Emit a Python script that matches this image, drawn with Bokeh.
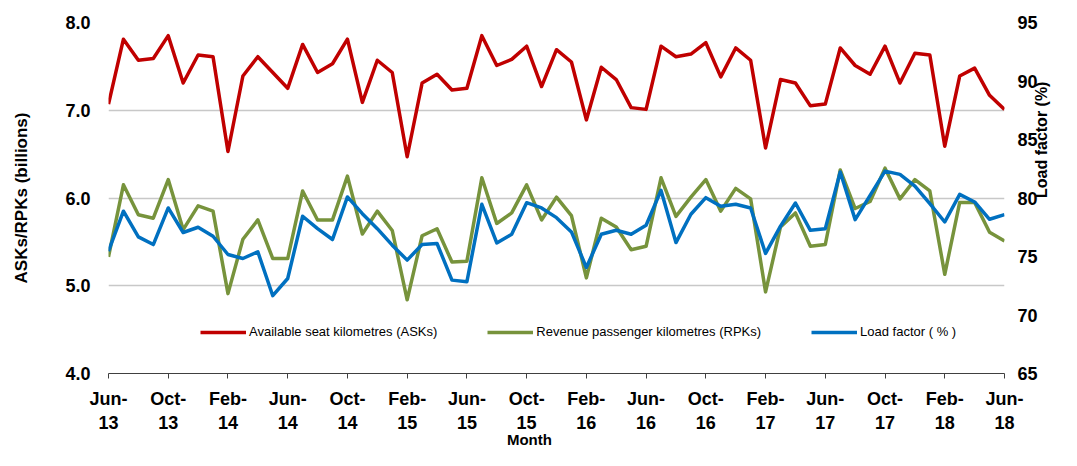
import math
from bokeh.plotting import figure
from bokeh.models import (Range1d, LinearAxis, FixedTicker, Legend, LegendItem,
                          PrintfTickFormatter)
from bokeh.embed import file_html
from bokeh.resources import INLINE

# ---- data (Jun-13 .. Jun-18, monthly) ----
month_index = list(range(61))
tick_labels = ["Jun-13", "Oct-13", "Feb-14", "Jun-14", "Oct-14", "Feb-15",
               "Jun-15", "Oct-15", "Feb-16", "Jun-16", "Oct-16", "Feb-17",
               "Jun-17", "Oct-17", "Feb-18", "Jun-18"]

asks = [7.07, 7.81, 7.57, 7.59, 7.85, 7.31, 7.63, 7.61, 6.53, 7.39, 7.61, 7.43,
        7.25, 7.75, 7.43, 7.53, 7.81, 7.09, 7.57, 7.43, 6.47,
        7.31, 7.41, 7.23, 7.25, 7.85, 7.51, 7.58, 7.73, 7.27, 7.69, 7.55, 6.89,
        7.49, 7.35, 7.03, 7.01, 7.73, 7.61, 7.64, 7.77,
        7.38, 7.71, 7.57, 6.57, 7.35, 7.31, 7.05, 7.07, 7.71, 7.51, 7.41, 7.73,
        7.31, 7.65, 7.63, 6.59, 7.39, 7.48, 7.17, 7.01]

rpks = [5.33, 6.15, 5.81, 5.77, 6.21, 5.64, 5.91, 5.85, 4.91, 5.53, 5.75, 5.31,
        5.31, 6.08, 5.75, 5.75, 6.25, 5.59, 5.85, 5.63, 4.84,
        5.57, 5.65, 5.27, 5.28, 6.23, 5.71, 5.83, 6.15, 5.75, 6.01, 5.80, 5.09,
        5.77, 5.67, 5.41, 5.45, 6.23, 5.79, 6.01, 6.21,
        5.85, 6.11, 5.99, 4.93, 5.67, 5.83, 5.45, 5.47, 6.32, 5.88, 5.96, 6.34,
        5.99, 6.21, 6.08, 5.13, 5.95, 5.95, 5.61, 5.51]

load_factor = [75.45, 78.87, 76.68, 76.02, 79.15, 77.05, 77.50, 76.73, 75.17,
               74.83, 75.40, 71.65, 73.12, 78.44, 77.38, 76.45, 80.09, 78.66,
               77.38, 75.97, 74.69,
               76.02, 76.11, 72.98, 72.84, 79.46, 76.16, 76.90, 79.60, 79.15,
               78.32, 77.10, 74.06, 76.90, 77.24, 76.90, 77.67, 80.65, 76.19,
               78.61, 80.03,
               79.29, 79.46, 79.15, 75.26, 77.59, 79.57, 77.24, 77.38, 82.22,
               78.15, 80.23, 82.30, 82.02, 81.02, 79.52, 77.95, 80.31, 79.66,
               78.18, 78.58]

FONT = "Liberation Sans"

p = figure(width=1061, height=450, output_backend="svg", toolbar_location=None,
           x_range=Range1d(0, 60), y_range=Range1d(4, 8),
           min_border_left=108, min_border_right=56,
           min_border_top=22, min_border_bottom=76)
p.outline_line_color = None
p.background_fill_color = "white"
p.border_fill_color = "white"

# grid
p.xgrid.visible = False
p.ygrid.ticker = FixedTicker(ticks=[5, 6, 7, 8])
p.ygrid.grid_line_color = "#c8c8c8"
p.ygrid.grid_line_width = 1.5

# left axis
ya = p.yaxis[0]
ya.ticker = FixedTicker(ticks=[4, 5, 6, 7, 8])
ya.formatter = PrintfTickFormatter(format="%.1f")
ya.axis_line_color = None
ya.major_tick_line_color = None
ya.major_tick_out = 0
ya.major_tick_in = 0
ya.minor_tick_line_color = None
ya.minor_tick_out = 0
ya.major_label_standoff = 18
ya.major_label_text_font = FONT
ya.major_label_text_font_style = "bold"
ya.major_label_text_font_size = "18px"
ya.major_label_text_color = "black"
ya.axis_label = "ASKs/RPKs (billions)"
ya.axis_label_standoff = 31
ya.axis_label_text_font = FONT
ya.axis_label_text_font_style = "bold"
ya.axis_label_text_font_size = "17px"
ya.axis_label_text_color = "black"

# right axis
p.extra_y_ranges = {"lf": Range1d(65, 95)}
ra = LinearAxis(y_range_name="lf", ticker=FixedTicker(ticks=[65, 70, 75, 80, 85, 90, 95]))
ra.axis_line_color = None
ra.major_tick_line_color = None
ra.major_tick_out = 0
ra.major_tick_in = 0
ra.minor_tick_line_color = None
ra.minor_tick_out = 0
ra.major_label_standoff = 13
ra.major_label_text_font = FONT
ra.major_label_text_font_style = "bold"
ra.major_label_text_font_size = "18px"
ra.major_label_text_color = "black"
ra.axis_label = "Load factor (%)"
ra.axis_label_orientation = math.pi / 2
ra.axis_label_standoff = 1
ra.axis_label_text_font = FONT
ra.axis_label_text_font_style = "bold"
ra.axis_label_text_font_size = "16px"
ra.axis_label_text_color = "black"
p.add_layout(ra, "right")

# x axis
xa = p.xaxis[0]
tick_pos = list(range(0, 61, 4))
xa.ticker = FixedTicker(ticks=tick_pos)
xa.major_label_overrides = {t: lab.replace("-", "-\n") for t, lab in zip(tick_pos, tick_labels)}
xa.axis_line_color = "#404040"
xa.axis_line_width = 1
xa.major_tick_line_color = "#404040"
xa.major_tick_out = 5
xa.major_tick_in = 0
xa.minor_tick_line_color = None
xa.minor_tick_out = 0
xa.major_label_standoff = 10
xa.major_label_text_font = FONT
xa.major_label_text_font_style = "bold"
xa.major_label_text_font_size = "18px"
xa.major_label_text_color = "black"
# trailing no-break spaces shift the centred title left, as in the original
xa.axis_label = "Month" + "\u00a0" * 13
xa.axis_label_standoff = -5
xa.axis_label_text_font = FONT
xa.axis_label_text_font_style = "bold"
xa.axis_label_text_font_size = "15px"
xa.axis_label_text_color = "black"

# lines
r1 = p.line(month_index, asks, line_color="#C00000", line_width=3.5, line_join="round")
r2 = p.line(month_index, rpks, line_color="#77933C", line_width=3.5, line_join="round")
r3 = p.line(month_index, load_factor, line_color="#0070C0", line_width=3.5,
            line_join="round", y_range_name="lf")

legend = Legend(items=[
    LegendItem(label="Available seat kilometres (ASKs)", renderers=[r1]),
    LegendItem(label="Revenue passenger kilometres (RPKs)", renderers=[r2]),
    LegendItem(label="Load factor ( % )", renderers=[r3]),
], orientation="horizontal", location=(92, 34), glyph_width=46, glyph_height=14,
    label_standoff=3, spacing=50, padding=0, margin=0,
    background_fill_alpha=0, border_line_color=None,
    label_text_font=FONT, label_text_font_size="13px", label_text_color="black",
    label_height=14)
p.add_layout(legend)

open("out.html", "w").write(file_html(p, INLINE))
